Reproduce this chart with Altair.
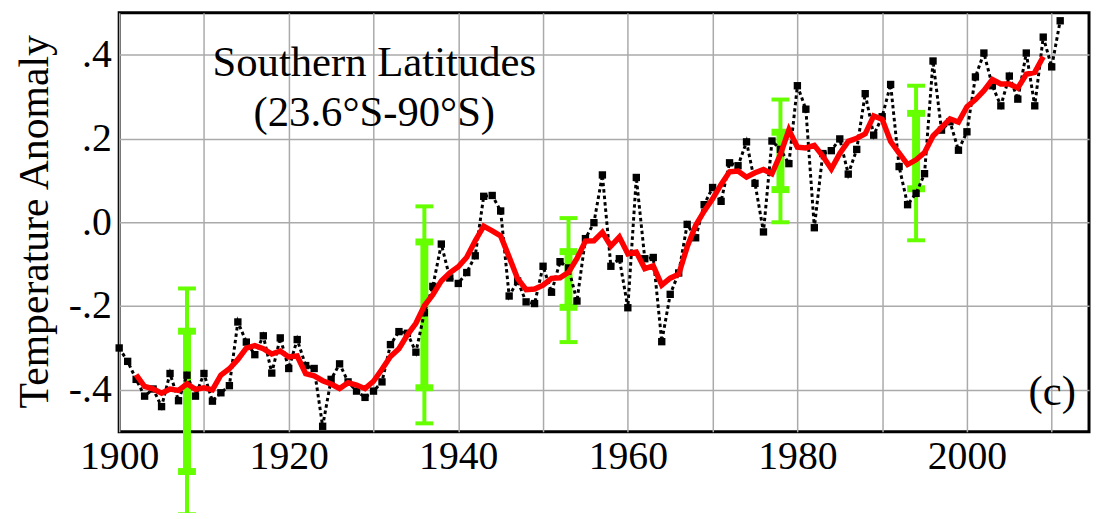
import altair as alt
import pandas as pd

# ---- data ----
years = list(range(1900, 2012))
anomaly = [
    -0.300, -0.332, -0.375, -0.415, -0.398, -0.440, -0.361, -0.426, -0.365, -0.415,  # 1900s
    -0.361, -0.427, -0.407, -0.390, -0.238, -0.286, -0.316, -0.271, -0.360, -0.276,  # 1910s
    -0.349, -0.280, -0.342, -0.349, -0.487, -0.375, -0.338, -0.381, -0.403, -0.418,  # 1920s
    -0.403, -0.381, -0.292, -0.261, -0.265, -0.310, -0.216, -0.153, -0.052, -0.133,  # 1930s
    -0.146, -0.120, -0.080, 0.062, 0.064, 0.027, -0.176, -0.140, -0.190, -0.194,     # 1940s
    -0.105, -0.167, -0.094, -0.109, -0.188, -0.039, -0.001, 0.113, -0.105, -0.087,   # 1950s
    -0.204, 0.107, -0.087, -0.084, -0.285, -0.172, -0.121, -0.005, -0.037, 0.042,    # 1960s
    0.083, 0.050, 0.142, 0.135, 0.192, 0.093, -0.023, 0.194, 0.174, 0.140,           # 1970s
    0.326, 0.270, -0.013, 0.164, 0.171, 0.199, 0.115, 0.174, 0.307, 0.208,           # 1980s
    0.252, 0.329, 0.133, 0.042, 0.069, 0.116, 0.385, 0.220, 0.240, 0.172,            # 1990s
    0.216, 0.347, 0.404, 0.326, 0.278, 0.349, 0.294, 0.404, 0.278, 0.442,            # 2000s
    0.371, 0.481,                                                                    # 2010s
]

eb_years = [1908, 1936, 1953, 1978, 1994]
outer_lo = [-0.697, -0.480, -0.286, 0.000, -0.043]
outer_hi = [-0.158, 0.038, 0.010, 0.293, 0.326]
inner_lo = [-0.595, -0.395, -0.203, 0.078, 0.080]
inner_hi = [-0.260, -0.047, -0.070, 0.215, 0.260]

x_grid_years = list(range(1900, 2011, 10))
y_ticks = [-0.4, -0.2, 0.0, 0.2, 0.4]

annotation_line1 = ["Southern Latitudes"]
annotation_line2 = ["(23.6°S-90°S)"]
panel_label = ["(c)"]

# ---- tables ----
df = pd.DataFrame({"year": years, "anomaly": anomaly})
eb = pd.DataFrame({"year": eb_years, "olo": outer_lo, "ohi": outer_hi,
                   "ilo": inner_lo, "ihi": inner_hi})

FONT = "Liberation Serif"
GREEN = "#66ff00"
GRID = "#aaaaaa"

xscale = alt.Scale(domain=[1900, 2014.4], nice=False, zero=False)
yscale = alt.Scale(domain=[-0.5, 0.5], nice=False, zero=False)

xaxis = alt.Axis(
    values=x_grid_years,
    labelExpr="datum.value % 20 == 0 ? '' + datum.value : ''",
    title=None, grid=True, gridColor=GRID, gridWidth=1.5, gridOpacity=1,
    ticks=False, domain=False,
    labelFont=FONT, labelFontSize=40, labelColor="black", labelPadding=5,
    labelFlush=False, labelOverlap=False,
)
yaxis = alt.Axis(
    values=y_ticks,
    labelExpr="datum.value > 0.3 ? '.4' : datum.value > 0.1 ? '.2' : datum.value > -0.1 ? '.0' : datum.value > -0.3 ? '-.2' : '-.4'",
    title="Temperature Anomaly", titleFont=FONT, titleFontSize=42,
    titleFontWeight="normal", titleColor="black",
    titleX=-72, titleY=210, titleAlign="center", titleBaseline="alphabetic",
    grid=True, gridColor=GRID, gridWidth=1.5, gridOpacity=1,
    ticks=False, domain=False,
    labelFont=FONT, labelFontSize=40, labelColor="black", labelPadding=8,
    labelFlush=False, labelOverlap=False,
)


def X(field):
    return alt.X(field, type="quantitative", scale=xscale, axis=xaxis)


def Y(field):
    return alt.Y(field, type="quantitative", scale=yscale, axis=yaxis)


ebc = alt.Chart(eb)
outer_rule = ebc.mark_rule(color=GREEN, strokeWidth=4).encode(
    x=X("year"), y=Y("olo"), y2="ohi")
inner_rule = ebc.mark_rule(color=GREEN, strokeWidth=8).encode(
    x=X("year"), y=Y("ilo"), y2="ihi")
outer_caps = ebc.transform_fold(["olo", "ohi"]).mark_tick(
    orient="horizontal", size=18, thickness=4, color=GREEN, opacity=1).encode(
    x=X("year"), y=Y("value"))
inner_caps = ebc.transform_fold(["ilo", "ihi"]).mark_tick(
    orient="horizontal", size=18, thickness=7, color=GREEN, opacity=1).encode(
    x=X("year"), y=Y("value"))

base = alt.Chart(df)
dotted = base.mark_line(color="black", strokeDash=[3.5, 3], strokeWidth=3).encode(
    x=X("year"), y=Y("anomaly"))
squares = base.mark_square(size=55, color="black", opacity=1).encode(
    x=X("year"), y=Y("anomaly"))
smooth = (
    base.transform_window(smooth="mean(anomaly)", n="count()", frame=[-2, 2],
                          sort=[alt.SortField("year")])
    .transform_filter("datum.n == 5")
    .mark_line(color="#ff0000", strokeWidth=5.5)
    .encode(x=X("year"), y=Y("smooth"))
)

text1 = alt.Chart(pd.DataFrame({"t": annotation_line1})).mark_text(
    font=FONT, fontSize=43, color="black", align="center", baseline="middle").encode(
    text="t:N", x=alt.value(257), y=alt.value(51))
text2 = alt.Chart(pd.DataFrame({"t": annotation_line2})).mark_text(
    font=FONT, fontSize=43, color="black", align="center", baseline="middle").encode(
    text="t:N", x=alt.value(257), y=alt.value(101))
text3 = alt.Chart(pd.DataFrame({"t": panel_label})).mark_text(
    font=FONT, fontSize=43, color="black", align="center", baseline="middle").encode(
    text="t:N", x=alt.value(940), y=alt.value(382))

chart = alt.layer(
    outer_rule, inner_rule, outer_caps, inner_caps,
    dotted, squares, smooth, text1, text2, text3,
).properties(
    width=977, height=422,
    autosize=alt.AutoSizeParams(type="none"),
    padding={"left": 112, "top": 3, "right": 2, "bottom": 80},
    background="white",
).configure_view(stroke="black", strokeWidth=3)

chart.save("out.html", embed_options={"renderer": "svg", "actions": False})
